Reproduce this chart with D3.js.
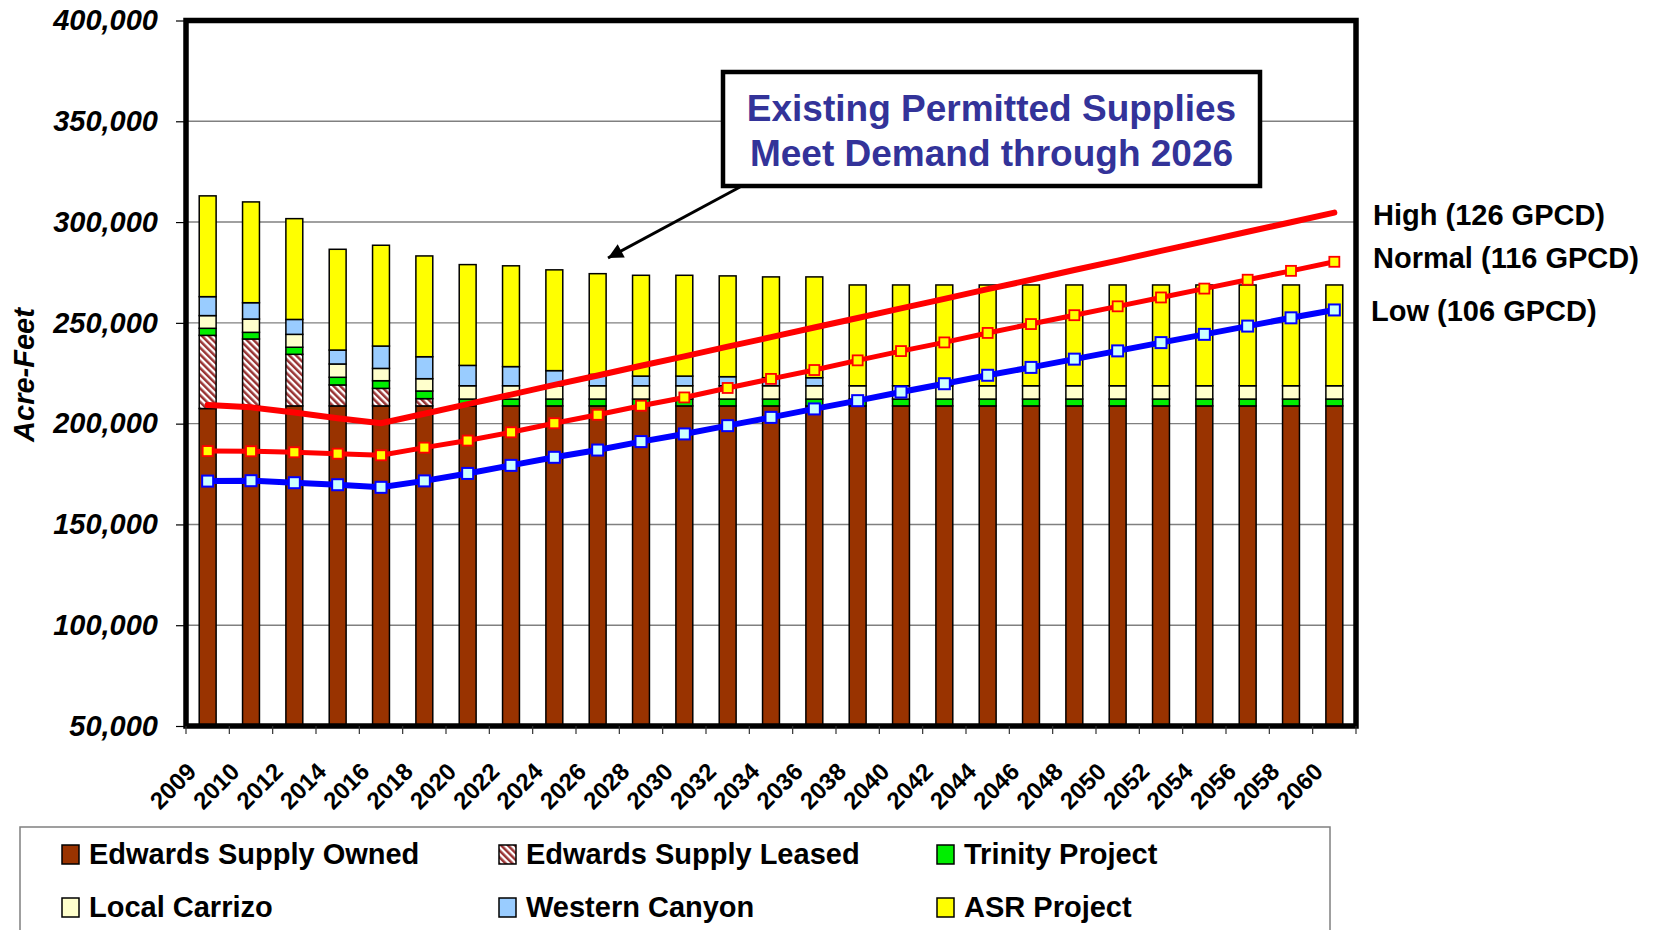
<!DOCTYPE html>
<html lang="en">
<head>
<meta charset="utf-8">
<script src="https://cdn.jsdelivr.net/npm/d3@7"></script>
<style>
    body { margin: 0; background: #fff; }
    text { font-family: Arial, "Liberation Sans", sans-serif; font-weight: bold; }
</style>
</head>
<body>
<div id="chart"></div>
<script>
// categories
var years = ["2009","2010","2012","2014","2016","2018","2020","2022","2024","2026","2028","2030","2032","2034",
             "2036","2038","2040","2042","2044","2046","2048","2050","2052","2054","2056","2058","2060"];

// supply (acre-feet), bottom to top
var edwardsOwned = [207500,208800,208800,208800,208800,208800,208800,208800,208800,208800,208800,208800,208800,208800,
                    208800,208800,208800,208800,208800,208800,208800,208800,208800,208800,208800,208800,208800];
var edwardsLeased = [36300,33200,25600,10400,8700,3600,0,0,0,0,0,0,0,0,0,0,0,0,0,0,0,0,0,0,0,0,0];
var trinity = [3500,3300,3500,3800,3800,3800,3400,3400,3400,3400,3400,3400,3400,3400,
               3400,3400,3400,3400,3400,3400,3400,3400,3400,3400,3400,3400,3400];
var localCarrizo = [6300,6600,6400,6600,6100,6100,6600,6600,6600,6600,6600,6600,6600,6600,
                    6600,6600,6600,6600,6600,6600,6600,6600,6600,6600,6600,6600,6600];
var westernCanyon = [9400,8100,7400,6900,11100,10900,10100,9500,7500,5600,4800,4800,4500,4000,
                     4000,0,0,0,0,0,0,0,0,0,0,0,0];
var asrProject = [50000,50000,50000,50000,50000,50000,50000,50000,50000,50000,50000,50000,50000,50000,
                  50000,50000,50000,50000,50000,50000,50000,50000,50000,50000,50000,50000,50000];

// demand projections
var demandHigh = [209200,208100,205500,202700,200200,204900,209700,214400,219200,223900,228700,233400,238200,242900,
                  247700,252400,257200,261900,266700,271400,276200,280900,285700,290400,295200,299900,304700];
var demandNormal = [186400,186300,185800,185100,184300,188100,191600,195700,200200,204400,208900,213000,217700,222200,
                    226600,231400,236000,240300,245000,249400,253800,258200,262600,267000,271400,275800,280300];
var demandLow = [171500,171700,170700,169700,168400,171600,175300,179300,183300,186900,191100,194900,199000,203100,
                 207300,211400,215700,219800,224000,227900,232000,236100,240200,244300,248400,252500,256400];

var yTicks = [50000,100000,150000,200000,250000,300000,350000,400000];

var seriesKeys = ["owned","leased","trinity","carrizo","western","asr"];
var seriesNames = ["Edwards Supply Owned","Edwards Supply Leased","Trinity Project","Local Carrizo","Western Canyon","ASR Project"];
var seriesFill = ["#993300","url(#hatch)","#00ee00","#ffffcc","#99ccff","#ffff00"];

var table = years.map(function(yr, i) {
    return { year: yr, owned: edwardsOwned[i], leased: edwardsLeased[i], trinity: trinity[i],
             carrizo: localCarrizo[i], western: westernCanyon[i], asr: asrProject[i] };
});

var W = 1658, H = 930;
var plotL = 186, plotR = 1356, plotT = 20.5, plotB = 726;

var svg = d3.select("#chart").append("svg").attr("width", W).attr("height", H);
svg.append("rect").attr("width", W).attr("height", H).attr("fill", "#fff");

var defs = svg.append("defs");
var hatch = defs.append("pattern").attr("id", "hatch").attr("patternUnits", "userSpaceOnUse")
    .attr("width", 4.8).attr("height", 4.8).attr("patternTransform", "rotate(-45)");
hatch.append("rect").attr("width", 4.8).attr("height", 4.8).attr("fill", "#fff");
hatch.append("rect").attr("width", 2.5).attr("height", 4.8).attr("fill", "#993333");

defs.append("marker").attr("id", "arrow").attr("viewBox", "0 0 10 10")
    .attr("refX", 10).attr("refY", 5).attr("markerUnits", "userSpaceOnUse")
    .attr("markerWidth", 19).attr("markerHeight", 15).attr("orient", "auto")
    .append("path").attr("d", "M0,0 L10,5 L0,10 Z").attr("fill", "#000");

var x = d3.scaleBand().domain(years).range([plotL, plotR]).padding(0);
var bw = x.bandwidth();
var barW = bw * 0.39;
var y = d3.scaleLinear().domain([50000, 400000]).range([plotB, plotT]).clamp(true);

// grid
svg.append("g").selectAll("line").data(yTicks.slice(1, -1)).join("line")
    .attr("x1", plotL).attr("x2", plotR)
    .attr("y1", function(d) { return y(d); }).attr("y2", function(d) { return y(d); })
    .attr("stroke", "#808080").attr("stroke-width", 1.4);

// stacked bars
var stacked = d3.stack().keys(seriesKeys)(table);
var bars = svg.append("g");
stacked.forEach(function(layer, k) {
    bars.append("g").selectAll("rect")
        .data(layer.filter(function(d) { return d[1] - d[0] > 0; }))
        .join("rect")
        .attr("x", function(d) { return x(d.data.year) + (bw - barW) / 2; })
        .attr("y", function(d) { return y(d[1]); })
        .attr("width", barW)
        .attr("height", function(d) { return y(d[0]) - y(d[1]); })
        .attr("fill", seriesFill[k])
        .attr("stroke", "#000").attr("stroke-width", 1.5);
});

// frame
svg.append("rect").attr("x", plotL).attr("y", plotT).attr("width", plotR - plotL).attr("height", plotB - plotT)
    .attr("fill", "none").attr("stroke", "#000").attr("stroke-width", 5.5);

// y axis
var yAxis = svg.append("g").attr("transform", "translate(" + plotL + ",0)")
    .call(d3.axisLeft(y).tickValues(yTicks).tickFormat(d3.format(",")).tickSize(10).tickPadding(18));
yAxis.select(".domain").remove();
yAxis.selectAll(".tick line").attr("stroke", "#000").attr("stroke-width", 1.2);
yAxis.selectAll("text").attr("fill", "#000").style("font-size", "29px").style("font-style", "italic")
    .style("font-family", "Arial, 'Liberation Sans', sans-serif").style("font-weight", "bold");

svg.append("text").attr("transform", "translate(34,375) rotate(-90)").attr("text-anchor", "middle")
    .style("font-size", "29px").style("font-style", "italic").text("Acre-Feet");

// x axis ticks at category edges
var edges = years.map(function(d) { return x(d); }).concat([plotR]);
svg.append("g").selectAll("line").data(edges).join("line")
    .attr("x1", function(d) { return d; }).attr("x2", function(d) { return d; })
    .attr("y1", plotB).attr("y2", plotB + 8)
    .attr("stroke", "#333").attr("stroke-width", 1.2);

svg.append("g").selectAll("text").data(years).join("text")
    .attr("transform", function(d) { return "translate(" + (x(d) + bw / 2 - 10) + ",773) rotate(-45)"; })
    .attr("text-anchor", "end").style("font-size", "24px").text(function(d) { return d; });

// demand lines
var line = d3.line().x(function(d, i) { return x(years[i]) + bw / 2; }).y(function(d) { return y(d); });

svg.append("path").datum(demandHigh).attr("d", line).attr("fill", "none")
    .attr("stroke", "#ff0000").attr("stroke-width", 6).attr("stroke-linecap", "round");
svg.append("path").datum(demandNormal).attr("d", line).attr("fill", "none")
    .attr("stroke", "#ff0000").attr("stroke-width", 5);
svg.append("path").datum(demandLow).attr("d", line).attr("fill", "none")
    .attr("stroke", "#0000ff").attr("stroke-width", 6);

svg.append("g").selectAll("rect").data(demandNormal).join("rect")
    .attr("x", function(d, i) { return x(years[i]) + bw / 2 - 5; })
    .attr("y", function(d) { return y(d) - 5; })
    .attr("width", 10).attr("height", 10)
    .attr("fill", "#ffff00").attr("stroke", "#ff0000").attr("stroke-width", 1.8);
svg.append("g").selectAll("rect").data(demandLow).join("rect")
    .attr("x", function(d, i) { return x(years[i]) + bw / 2 - 5.5; })
    .attr("y", function(d) { return y(d) - 5.5; })
    .attr("width", 11).attr("height", 11)
    .attr("fill", "#ccffff").attr("stroke", "#0000ff").attr("stroke-width", 2);

// series labels on the right
var lineLabels = [["High (126 GPCD)", 1373, 225], ["Normal (116 GPCD)", 1373, 268], ["Low (106 GPCD)", 1371, 321]];
svg.append("g").selectAll("text").data(lineLabels).join("text")
    .attr("x", function(d) { return d[1]; }).attr("y", function(d) { return d[2]; })
    .style("font-size", "29px").text(function(d) { return d[0]; });

// annotation
svg.append("rect").attr("x", 723).attr("y", 72).attr("width", 537).attr("height", 114)
    .attr("fill", "#fff").attr("stroke", "#000").attr("stroke-width", 4.5);
svg.append("text").attr("x", 991.5).attr("y", 121).attr("text-anchor", "middle")
    .attr("fill", "#333399").style("font-size", "37px").text("Existing Permitted Supplies");
svg.append("text").attr("x", 991.5).attr("y", 166).attr("text-anchor", "middle")
    .attr("fill", "#333399").style("font-size", "37px").text("Meet Demand through 2026");
svg.append("line").attr("x1", 740).attr("y1", 187).attr("x2", 608).attr("y2", 258)
    .attr("stroke", "#000").attr("stroke-width", 3).attr("marker-end", "url(#arrow)");

// legend
svg.append("rect").attr("x", 20).attr("y", 827).attr("width", 1310).attr("height", 140)
    .attr("fill", "#fff").attr("stroke", "#808080").attr("stroke-width", 1.5);
var legendX = [62, 499, 937];
var legendY = [845, 898];
var leg = svg.append("g").selectAll("g").data(seriesNames).join("g")
    .attr("transform", function(d, i) { return "translate(" + legendX[i % 3] + "," + legendY[Math.floor(i / 3)] + ")"; });
leg.append("rect").attr("width", 17).attr("height", 19)
    .attr("fill", function(d, i) { return seriesFill[i]; })
    .attr("stroke", "#000").attr("stroke-width", 1.5);
leg.append("text").attr("x", 27).attr("y", 18.5).style("font-size", "29px").text(function(d) { return d; });
</script>
</body>
</html>
